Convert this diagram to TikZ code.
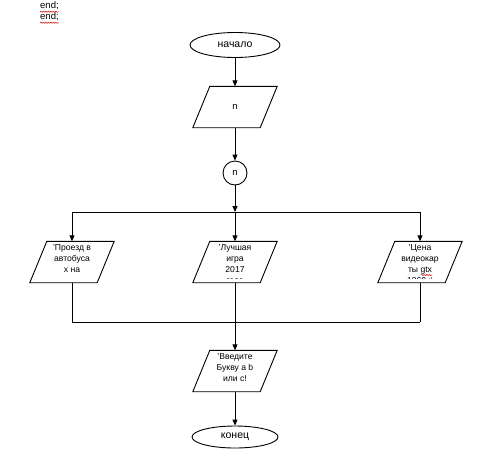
\documentclass[tikz,border=0pt]{standalone}
\usepackage{fontspec}
\setmainfont{Liberation Sans}
\usetikzlibrary{arrows.meta,calc,decorations.pathmorphing,shapes.geometric}
\tikzset{
  every picture/.style={x=1pt,y=-1pt},
  ln/.style={draw=black,line width=0.9pt},
  arr/.style={ln,-{Triangle[length=6pt,width=5pt]}},
  term/.style={draw=black,line width=0.9pt,ellipse,minimum width=90pt,minimum height=25pt,inner sep=0pt,font=\fontsize{10.5}{12}\selectfont},
  conn/.style={draw=black,line width=0.9pt,circle,minimum size=24pt,inner sep=0pt,font=\fontsize{9.5}{10}\selectfont},
  pbox/.style={minimum width=84pt,minimum height=41pt,inner sep=0pt},
  ptext/.style={anchor=north,align=center,inner sep=0pt,font=\fontsize{8.6}{11}\selectfont},
  squig/.style={draw=red!80!black,line width=0.5pt,decorate,decoration={snake,amplitude=0.6pt,segment length=2.5pt}}
}
\newcommand{\parashape}[1]{%
  \draw[ln] ($(#1.north west)+(17,0)$) -- (#1.north east) -- ($(#1.south east)+(-17,0)$) -- (#1.south west) -- cycle;}
\newcommand{\paraclip}[1]{%
  \clip ($(#1.north west)+(0,1)$) rectangle ($(#1.south east)+(0,-4.5)$);}
\begin{document}
\begin{tikzpicture}
\useasboundingbox (0,0) rectangle (500,464);
% top text
\node[anchor=west,inner sep=0pt,font=\fontsize{9.5}{10}\selectfont] (e1) at (40,6) {end;};
\node[anchor=west,inner sep=0pt,font=\fontsize{9.5}{10}\selectfont] (e2) at (40,17) {end;};
\draw[squig] ($(e1.south west)+(0,1.5)$) -- ($(e1.south east)+(0,1.5)$);
\draw[squig] ($(e2.south west)+(0,1.5)$) -- ($(e2.south east)+(0,1.5)$);

% nodes
\node[term] (start) at (235,45) {начало};
\node[pbox] (pn) at (235,107) {};
\parashape{pn}
\node[font=\fontsize{9.5}{10}\selectfont] at (pn) {n};
\node[conn] (c) at (235,173) {n};

\node[pbox] (p1) at (72,262) {};
\node[pbox] (p2) at (235,262) {};
\node[pbox] (p3) at (420,262) {};
\node[pbox] (p4) at (235,371) {};
\parashape{p1}\parashape{p2}\parashape{p3}\parashape{p4}
\begin{scope}\paraclip{p1}
\node[ptext] (t1) at ($(p1.north)+(0,3)$) {'Проезд в\\автобуса\\х на};
\end{scope}
\begin{scope}\paraclip{p2}
\node[ptext] (t2) at ($(p2.north)+(0,3)$) {'Лучшая\\игра\\2017\\года};
\end{scope}
\begin{scope}\paraclip{p3}
\node[ptext] (t3) at ($(p3.north)+(0,3)$) {'Цена\\видеокар\\ты gtx\\1060 :'};
\end{scope}
\draw[squig] (421,275) -- (432,275);
\node[ptext] (t4) at ($(p4.north)+(0,3)$) {'Введите\\Букву a b\\или c!};

\node[term,minimum height=22pt,minimum width=86pt] (end) at (235,437) {конец};

% junction coordinates
\coordinate (jt) at (235,212);
\coordinate (jl) at (72,212);
\coordinate (jr) at (420,212);
\coordinate (bl) at (72,322);
\coordinate (bm) at (235,322);
\coordinate (br) at (420,322);

% connectors
\draw[arr] (start) -- (pn);
\draw[arr] (pn) -- (c);
\draw[arr] (c) -- (jt);
\draw[ln] (jl) -- (jr);
\draw[arr] (jl) -- (p1);
\draw[arr] (jt) -- (p2);
\draw[arr] (jr) -- (p3);
\draw[ln] (p1) -- (bl);
\draw[ln] (p2) -- (bm);
\draw[ln] (p3) -- (br);
\draw[ln] (bl) -- (br);
\draw[arr] (bm) -- (p4);
\draw[arr] (p4) -- (end);
\end{tikzpicture}
\end{document}
